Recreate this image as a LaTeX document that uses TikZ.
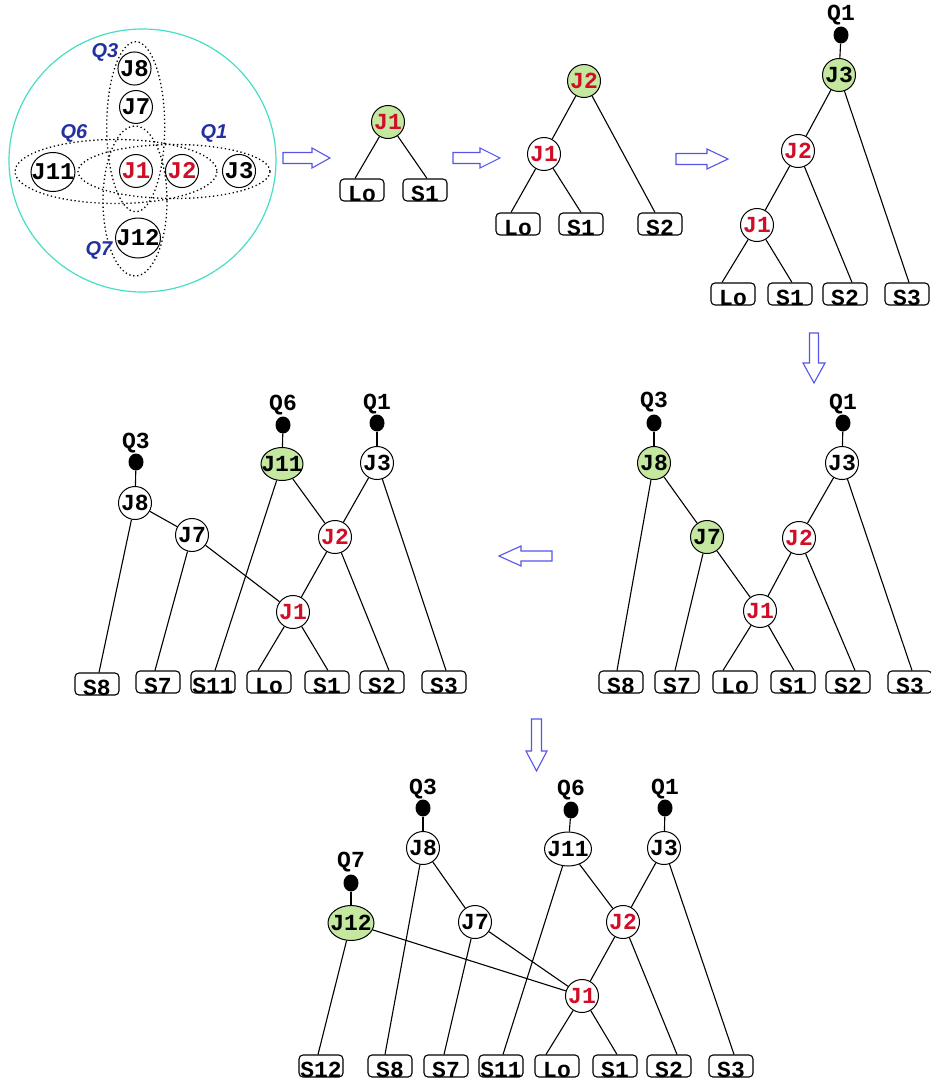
\documentclass[tikz,border=0pt]{standalone}
\usepackage{fontspec}
\newfontfamily\monofam{Liberation Mono}
\newfontfamily\qsansfam{Liberation Sans}
\usetikzlibrary{shapes.geometric}

\definecolor{jgreen}{RGB}{196,232,160}
\definecolor{jred}{RGB}{208,14,40}
\definecolor{qblue}{RGB}{34,48,160}
\definecolor{ring}{RGB}{70,222,196}
\definecolor{arrowblue}{RGB}{84,84,236}

% leaf labels sit low in their boxes
\newcommand\leaftext[1]{\smash{\raisebox{-11.5pt}{#1}}}
% wide labels do not stretch their ellipse
\newcommand\widetext[1]{\makebox[0pt]{#1}}

\begin{document}
\begin{tikzpicture}[x=1pt,y=-1pt,
  jfont/.style={font=\monofam\bfseries\fontsize{23}{23}\selectfont},
  jn/.style={circle, draw, line width=1pt, minimum size=33pt, inner sep=0pt, fill=white, jfont},
  jwide/.style={ellipse, draw, line width=1pt, inner sep=0pt, fill=white, jfont},
  pn/.style={jn, minimum size=32pt, font=\monofam\bfseries\fontsize{24}{24}\selectfont},
  pwide/.style={jwide, font=\monofam\bfseries\fontsize{24}{24}\selectfont},
  hot/.style={fill=jgreen},
  redt/.style={text=jred},
  qdot/.style={ellipse, fill=black, minimum width=15pt, minimum height=17pt, inner sep=0pt},
  qlab/.style={inner sep=0pt, jfont},
  qtag/.style={inner sep=0pt, text=qblue, font=\qsansfam\bfseries\itshape\fontsize{20}{20}\selectfont},
  leaf/.style={rectangle, rounded corners=4pt, draw, line width=1.1pt, minimum width=44pt, minimum height=22pt, inner sep=0pt, jfont},
  edge/.style={line width=1.1pt},
  qdots/.style={line width=1.3pt, dash pattern=on 1.3pt off 2.7pt},
  blockarrow/.style={draw=arrowblue, line width=1.1pt, line join=miter}
]
\useasboundingbox (0,0) rectangle (931,1081);

% ---------- query graph ----------
\draw[ring, line width=1.2pt] (142.5,160.5) ellipse [x radius=133.5, y radius=131.5];
\draw[qdots] (116,171.5) ellipse [x radius=101, y radius=32];
\draw[qdots] (174,171.5) ellipse [x radius=96, y radius=27];
\draw[qdots] (135.7,126.7) ellipse [x radius=29, y radius=85];
\draw[qdots] (135,201) ellipse [x radius=32, y radius=75];
\node[pn] (a8) at (134.5,68.5) {J8};
\node[pn] (a7) at (136,107) {J7};
\node[pn, redt] (a1) at (136,171) {J1};
\node[pn, redt] (a2) at (182,171) {J2};
\node[pn] (a3) at (239,171) {J3};
\node[pwide, minimum width=44pt, minimum height=39pt] (a11) at (53,172) {\widetext{J11}};
\node[pwide, minimum width=45pt, minimum height=40pt] (a12) at (138,238) {\widetext{J12}};
\node[qtag] (aq3) at (105,52) {Q3};
\node[qtag] (aq6) at (74,133) {Q6};
\node[qtag] (aq1) at (214,133) {Q1};
\node[qtag] (aq7) at (99,250) {Q7};

% ---------- step arrows ----------
\draw[blockarrow] (283,152.5) -- (312,152.5) -- (312,148) -- (330,158) -- (312,168) -- (312,163.5) -- (283,163.5) -- cycle;
\draw[blockarrow] (453,152.5) -- (480,152.5) -- (480,148) -- (500,158) -- (480,168) -- (480,163.5) -- (453,163.5) -- cycle;
\draw[blockarrow] (676,153.5) -- (707,153.5) -- (707,149) -- (728,159) -- (707,169) -- (707,164.5) -- (676,164.5) -- cycle;
\draw[blockarrow] (809.5,333) -- (818.5,333) -- (818.5,363) -- (825,363) -- (814,383) -- (803,363) -- (809.5,363) -- cycle;
\draw[blockarrow] (552,551) -- (521,551) -- (521,546) -- (499,556) -- (521,566) -- (521,561) -- (552,561) -- cycle;
\draw[blockarrow] (531.5,719) -- (541.5,719) -- (541.5,751) -- (547,751) -- (536.5,771) -- (526,751) -- (531.5,751) -- cycle;

% ---------- tree: J1 ----------
\node[jn, hot, redt] (b1) at (388,122) {J1};
\node[leaf] (blo) at (362,190) {\leaftext{Lo}};
\node[leaf] (bs1) at (425,190) {\leaftext{S1}};
\draw[edge] (b1) -- ([xshift=-7pt]blo.north);
\draw[edge] (b1) -- ([xshift=2pt]bs1.north);

% ---------- tree: J2 ----------
\node[jn, hot, redt] (c2) at (584,81) {J2};
\node[jn, redt] (c1) at (544,154) {J1};
\node[leaf] (clo) at (518,224) {\leaftext{Lo}};
\node[leaf] (cs1) at (581,224) {\leaftext{S1}};
\node[leaf] (cs2) at (660,224) {\leaftext{S2}};
\draw[edge] (c2) -- (c1);
\draw[edge] (c1) -- ([xshift=-7pt]clo.north);
\draw[edge] (c1) -- (cs1.north);
\draw[edge] (c2) -- ([xshift=-5pt]cs2.north);

% ---------- tree: J3 ----------
\node[qlab] (dq1) at (841,15) {Q1};
\node[qdot] (dd1) at (841,35) {};
\node[jn, hot] (d3) at (839,75) {J3};
\node[jn, redt] (d2) at (798,151) {J2};
\node[jn, redt] (d1) at (757,225) {J1};
\node[leaf] (dlo) at (733,294) {\leaftext{Lo}};
\node[leaf] (ds1) at (790,294) {\leaftext{S1}};
\node[leaf] (ds2) at (845,294) {\leaftext{S2}};
\node[leaf] (ds3) at (907,294) {\leaftext{S3}};
\draw[edge] (dd1) -- (d3);
\draw[edge] (d3) -- (d2);
\draw[edge] (d2) -- (d1);
\draw[edge] (d1) -- ([xshift=-11pt]dlo.north);
\draw[edge] (d1) -- ([xshift=2pt]ds1.north);
\draw[edge] (d2) -- ([xshift=7pt]ds2.north);
\draw[edge] (d3) -- ([xshift=2pt]ds3.north);

% ---------- tree: J8, J7 added ----------
\node[qlab] (eq3) at (654,402) {Q3};
\node[qdot] (ed3) at (654,423) {};
\node[jn, hot] (e8) at (654,463) {J8};
\node[qlab] (eq1) at (843,404) {Q1};
\node[qdot] (ed1) at (843,423) {};
\node[jn] (e3) at (842,463) {J3};
\node[jn, hot] (e7) at (707,537) {J7};
\node[jn, redt] (e2) at (799,538) {J2};
\node[jn, redt] (e1) at (760,611) {J1};
\node[leaf] (es8) at (621,682) {\leaftext{S8}};
\node[leaf] (es7) at (677,682) {\leaftext{S7}};
\node[leaf] (elo) at (735,682) {\leaftext{Lo}};
\node[leaf] (es1) at (793,682) {\leaftext{S1}};
\node[leaf] (es2) at (848,682) {\leaftext{S2}};
\node[leaf] (es3) at (910,682) {\leaftext{S3}};
\draw[edge] (ed3) -- (e8);
\draw[edge] (ed1) -- (e3);
\draw[edge] (e8) -- (e7);
\draw[edge] (e7) -- (e1);
\draw[edge] (e3) -- (e2);
\draw[edge] (e2) -- (e1);
\draw[edge] (e8) -- ([xshift=-4pt]es8.north);
\draw[edge] (e7) -- ([xshift=-2pt]es7.north);
\draw[edge] (e1) -- ([xshift=-12pt]elo.north);
\draw[edge] (e1) -- ([xshift=1pt]es1.north);
\draw[edge] (e2) -- ([xshift=7pt]es2.north);
\draw[edge] (e3) -- ([xshift=2pt]es3.north);

% ---------- tree: J11 added ----------
\node[qlab] (fq3) at (136,443) {Q3};
\node[qdot] (fd3) at (136,462) {};
\node[jn] (f8) at (135,503) {J8};
\node[jn] (f7) at (192,535) {J7};
\node[qlab] (fq6) at (283,405) {Q6};
\node[qdot] (fd6) at (283,425) {};
\node[jwide, hot, minimum width=42pt, minimum height=33pt] (f11) at (282,464) {\widetext{J11}};
\node[qlab] (fq1) at (377,404) {Q1};
\node[qdot] (fd1) at (377,423) {};
\node[jn] (f3) at (377,463) {J3};
\node[jn, redt] (f2) at (335,537) {J2};
\node[jn, redt] (f1) at (293,612) {J1};
\node[leaf] (fs8) at (97,684) {\leaftext{S8}};
\node[leaf] (fs7) at (158,682) {\leaftext{S7}};
\node[leaf] (fs11) at (213,682) {\leaftext{S11}};
\node[leaf] (flo) at (269,682) {\leaftext{Lo}};
\node[leaf] (fs1) at (327,682) {\leaftext{S1}};
\node[leaf] (fs2) at (382,682) {\leaftext{S2}};
\node[leaf] (fs3) at (444,682) {\leaftext{S3}};
\draw[edge] (fd3) -- (f8);
\draw[edge] (fd6) -- (f11);
\draw[edge] (fd1) -- (f3);
\draw[edge] (f8) -- (f7);
\draw[edge] (f7) -- (f1);
\draw[edge] (f11) -- (f2);
\draw[edge] (f3) -- (f2);
\draw[edge] (f2) -- (f1);
\draw[edge] (f8) -- ([xshift=2pt]fs8.north);
\draw[edge] (f7) -- ([xshift=-3pt]fs7.north);
\draw[edge] (f11) -- ([xshift=2pt]fs11.north);
\draw[edge] (f1) -- ([xshift=-11pt]flo.north);
\draw[edge] (f1) -- ([xshift=1pt]fs1.north);
\draw[edge] (f2) -- ([xshift=7pt]fs2.north);
\draw[edge] (f3) -- ([xshift=2pt]fs3.north);

% ---------- tree: J12 added ----------
\node[qlab] (gq3) at (423,789) {Q3};
\node[qdot] (gd3) at (423,808) {};
\node[jn] (g8) at (423,848) {J8};
\node[qlab] (gq6) at (571,790) {Q6};
\node[qdot] (gd6) at (571,810) {};
\node[jwide, minimum width=47pt, minimum height=34pt] (g11) at (568,849) {\widetext{J11}};
\node[qlab] (gq1) at (665,789) {Q1};
\node[qdot] (gd1) at (665,808) {};
\node[jn] (g3) at (664,848) {J3};
\node[qlab] (gq7) at (351,862) {Q7};
\node[qdot] (gd7) at (351,883) {};
\node[jwide, hot, minimum width=46pt, minimum height=35pt] (g12) at (351,923) {\widetext{J12}};
\node[jn] (g7) at (475,922) {J7};
\node[jn, redt] (g2) at (623,922) {J2};
\node[jn, redt] (g1) at (582,996) {J1};
\node[leaf] (gs12) at (321,1066) {\leaftext{S12}};
\node[leaf] (gs8) at (390,1066) {\leaftext{S8}};
\node[leaf] (gs7) at (446,1066) {\leaftext{S7}};
\node[leaf] (gs11) at (501,1066) {\leaftext{S11}};
\node[leaf] (glo) at (557,1066) {\leaftext{Lo}};
\node[leaf] (gs1) at (615,1066) {\leaftext{S1}};
\node[leaf] (gs2) at (669,1066) {\leaftext{S2}};
\node[leaf] (gs3) at (731,1066) {\leaftext{S3}};
\draw[edge] (gd3) -- (g8);
\draw[edge] (gd6) -- (g11);
\draw[edge] (gd1) -- (g3);
\draw[edge] (gd7) -- (g12);
\draw[edge] (g8) -- (g7);
\draw[edge] (g7) -- (g1);
\draw[edge] (g12) -- (g1);
\draw[edge] (g11) -- (g2);
\draw[edge] (g3) -- (g2);
\draw[edge] (g2) -- (g1);
\draw[edge] (g12) -- ([xshift=-3pt]gs12.north);
\draw[edge] (g8) -- ([xshift=-5pt]gs8.north);
\draw[edge] (g7) -- ([xshift=-2pt]gs7.north);
\draw[edge] (g11) -- ([xshift=2pt]gs11.north);
\draw[edge] (g1) -- ([xshift=-11pt]glo.north);
\draw[edge] (g1) -- ([xshift=2pt]gs1.north);
\draw[edge] (g2) -- ([xshift=8pt]gs2.north);
\draw[edge] (g3) -- ([xshift=3pt]gs3.north);
\end{tikzpicture}
\end{document}
